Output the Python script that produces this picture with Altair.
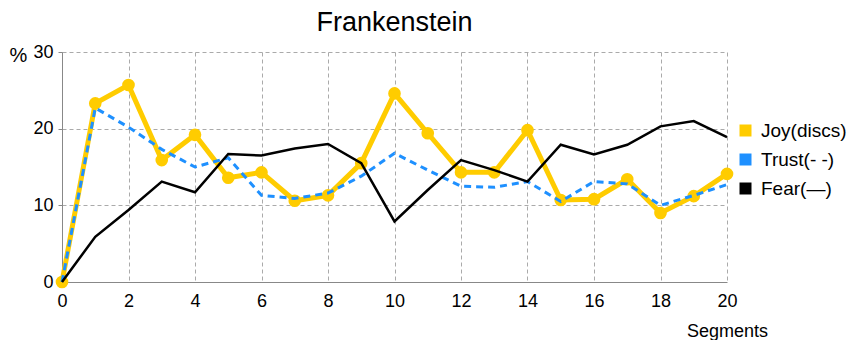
import altair as alt
import pandas as pd

segments = list(range(21))
joy = [0, 23.3, 25.7, 15.9, 19.2, 13.6, 14.3, 10.6, 11.3, 15.5, 24.6, 19.4, 14.3, 14.3, 19.8, 10.7, 10.8, 13.4, 9.0, 11.2, 14.1]
trust = [0, 22.7, 20.2, 17.3, 15.0, 16.2, 11.3, 10.9, 11.6, 13.8, 16.8, 14.6, 12.5, 12.35, 13.1, 10.5, 13.1, 12.8, 10.0, 11.3, 12.7]
fear = [0, 5.9, 9.4, 13.1, 11.7, 16.7, 16.5, 17.4, 18.0, 15.5, 7.9, 12.0, 15.9, 14.6, 13.1, 17.9, 16.65, 17.9, 20.3, 21.0, 18.9]
series_names = ["Joy(discs)", "Trust(- -)", "Fear(—)"]
series_colors = ["#FFCC00", "#1E90FF", "#000000"]

rows = []
for name, vals in zip(series_names, [joy, trust, fear]):
    for s, v in zip(segments, vals):
        rows.append({"segment": s, "value": v, "series": name})
df = pd.DataFrame(rows)

FONT = "Liberation Sans"

color = alt.Color(
    "series:N",
    scale=alt.Scale(domain=series_names, range=series_colors),
    legend=alt.Legend(
        title=None, orient="none", legendX=674, legendY=69,
        symbolType="square", symbolSize=144, symbolStrokeWidth=0,
        symbolOpacity=1, labelFontSize=19, labelFont=FONT, rowPadding=9,
        labelColor="#000000", labelOffset=6, labelLimit=200,
    ),
)

x = alt.X(
    "segment:Q",
    scale=alt.Scale(domain=[0, 20], nice=False),
    axis=alt.Axis(
        values=list(range(0, 21, 2)), title="Segments", titleX=665, titleY=49,
        titleAlign="center", titleBaseline="middle", titleFontSize=18,
        titleFontWeight="normal", titleFont=FONT, labelFontSize=18, labelFont=FONT,
        labelColor="#000000", titleColor="#000000", labelFlush=False,
        grid=True, gridDash=[4, 3], gridColor="#aaaaaa",
        domainColor="#888888", ticks=False, labelPadding=10,
    ),
)
y = alt.Y(
    "value:Q",
    scale=alt.Scale(domain=[0, 30], nice=False),
    axis=alt.Axis(
        values=[0, 10, 20, 30], title="%", titleAngle=0, titleX=-44, titleY=3,
        titleAlign="center", titleBaseline="middle", titleFontSize=20,
        titleFontWeight="normal", titleFont=FONT, labelFontSize=18, labelFont=FONT,
        labelColor="#000000", titleColor="#000000", labelFlush=False,
        grid=True, gridDash=[4, 3], gridColor="#aaaaaa",
        domainColor="#888888", tickColor="#888888", tickSize=4, labelPadding=5,
    ),
)

base = alt.Chart(df).encode(x=x, y=y, color=color)

joy_line = base.transform_filter(alt.datum.series == series_names[0]).mark_line(strokeWidth=5)
joy_pts = base.transform_filter(alt.datum.series == series_names[0]).mark_circle(size=160, opacity=1)
trust_line = base.transform_filter(alt.datum.series == series_names[1]).mark_line(strokeWidth=3, strokeDash=[7, 5])
fear_line = base.transform_filter(alt.datum.series == series_names[2]).mark_line(strokeWidth=2.5)

chart = alt.layer(joy_line, joy_pts, trust_line, fear_line).properties(
    width=665, height=230,
    title=alt.TitleParams("Frankenstein", fontSize=27, font=FONT, fontWeight="normal", color="#000000", offset=6),
    autosize=alt.AutoSizeParams(type="none"),
    padding={"left": 54, "top": 44, "right": 122, "bottom": 58},
).configure_view(stroke=None)

chart.save("out.html", embed_options={"renderer": "svg", "actions": False})
